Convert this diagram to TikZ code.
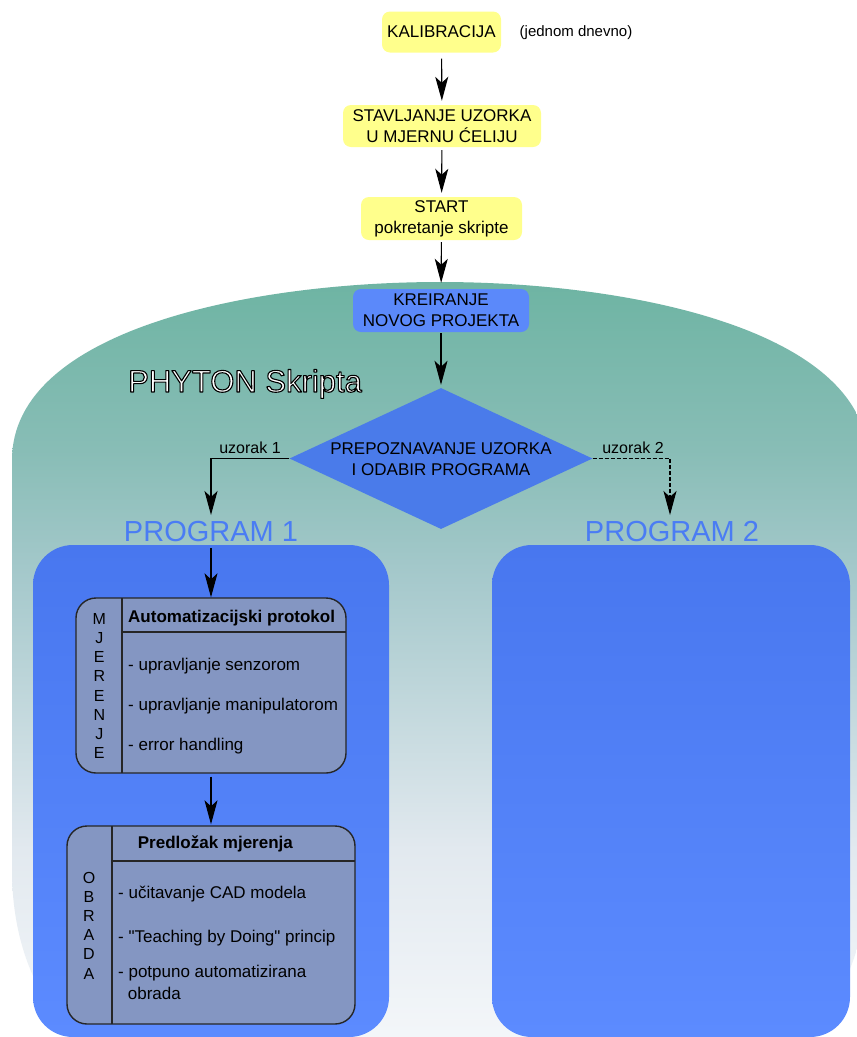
\documentclass[tikz,border=0pt]{standalone}
\usepackage{fontspec}
\setmainfont[Ligatures=TeXOff]{Liberation Sans}
\usetikzlibrary{arrows.meta,shapes.geometric}
\definecolor{yel}{HTML}{FFFF8C}
\definecolor{kreblue}{HTML}{5B89FA}
\definecolor{diablue}{HTML}{4A7BEA}
\definecolor{progtop}{HTML}{4877EF}
\definecolor{progbot}{HTML}{5C8BFF}
\definecolor{progtext}{HTML}{4A7CF4}
\definecolor{innerfill}{HTML}{8496C2}
\definecolor{d1}{HTML}{6EB4A3}
\definecolor{d2}{HTML}{88BDB6}
\definecolor{d3}{HTML}{A6C9CC}
\definecolor{d4}{HTML}{E2E9EF}
\definecolor{d5}{HTML}{F8FAFC}
\pgfdeclareverticalshading{domeshade}{100bp}{color(0bp)=(d5); color(25bp)=(d5); color(39.9bp)=(d4); color(56.6bp)=(d3); color(64.6bp)=(d2); color(75bp)=(d1); color(100bp)=(d1)}
\newcommand\outlinedtext[1]{{\color{white}\special{pdf:literal direct 2 Tr 0 0 0 RG 1.1 w 1 j}#1\special{pdf:literal direct 0 Tr}}}
\begin{document}
\begin{tikzpicture}[x=1pt,y=-1pt,
  font=\fontsize{17}{21}\selectfont,
  ybox/.style={fill=yel, rounded corners=8pt, inner sep=0pt, align=center},
  arr/.style={-{Stealth[length=24pt,width=13pt,inset=6pt]}, line width=1.1pt},
  darr/.style={arr, dash pattern=on 4pt off 2pt},
  inbox/.style={draw=black!85, line width=1.4pt, fill=innerfill, rounded corners=20pt, inner sep=0pt},
  divline/.style={draw=black!85, line width=1.4pt},
  progbox/.style={rounded corners=40pt, inner sep=0pt, top color=progtop, bottom color=progbot, draw=none},
  item/.style={anchor=base west, inner sep=0pt},
  vlet/.style={align=center, inner sep=0pt, font=\fontsize{16}{19.2}\selectfont},
  lbl/.style={font=\fontsize{16}{19}\selectfont, inner sep=0pt},
  ptitle/.style={text=progtext, font=\fontsize{29}{34}\selectfont, inner sep=0pt}]
\useasboundingbox (0,0) rectangle (857,1037);
\fill[white] (0,0) rectangle (857,1037);
% dome
\shade[shading=domeshade] (12,460) .. controls (12,330) and (250,282) .. (440,282) .. controls (630,282) and (868,330) .. (868,460) -- (868,870) .. controls (868,990) and (800,1080) .. (680,1090) -- (200,1090) .. controls (80,1080) and (12,990) .. (12,870) -- cycle;
% program boxes
\node[progbox, minimum width=356, minimum height=492] (pb1) at (211,791) {};
\node[progbox, minimum width=358, minimum height=492] (pb2) at (671,791) {};
% top flow
\node[ybox, minimum width=119, minimum height=41] (kal) at (441.5,32) {KALIBRACIJA};
\node[font=\fontsize{15}{18}\selectfont, inner sep=0pt] (jd) at (576,33) {(jednom dnevno)};
\node[ybox, minimum width=198, minimum height=42] (stav) at (442,126) {STAVLJANJE UZORKA\\U MJERNU ĆELIJU};
\node[ybox, minimum width=161, minimum height=43] (start) at (441.5,218.5) {START\\pokretanje skripte};
\node[ybox, fill=kreblue, minimum width=176, minimum height=43] (kre) at (441,310.5) {KREIRANJE\\NOVOG PROJEKTA};
\node[diamond, fill=diablue, minimum width=303, minimum height=141, inner sep=0pt] (dia) at (441,458.5) {};
\node[align=center, inner sep=0pt] (diat) at (441,459) {PREPOZNAVANJE UZORKA\\I ODABIR PROGRAMA};
\node[anchor=base west, inner sep=0pt, font=\fontsize{31}{36}\selectfont] (py) at (128,392) {\outlinedtext{PHYTON Skripta}};
\draw[arr, shorten <=6pt, shorten >=4pt] (kal) -- (stav);
\draw[arr, shorten <=3pt, shorten >=4pt] (stav) -- (start);
\draw[arr, shorten <=2pt, shorten >=6pt] (start) -- (kre);
\draw[arr, shorten <=1pt, shorten >=3pt] (kre) -- (dia);
% branches
\coordinate (t1) at (211,515);
\coordinate (t2) at (670,515);
\draw[arr] (dia.west) -| (t1);
\draw[darr] (dia.east) -| (t2);
\node[lbl] (u1) at (250,448) {uzorak 1};
\node[lbl] (u2) at (633,448) {uzorak 2};
\node[ptitle] (p1) at (211,532) {PROGRAM 1};
\node[ptitle] (p2) at (672,532) {PROGRAM 2};
% MJERENJE box
\node[inbox, minimum width=270, minimum height=175] (mj) at (211,685.5) {};
\draw[divline] (122,598) -- (122,773);
\draw[divline] (122,632) -- (346,632);
\node[vlet] (mjl) at (99.3,686) {M\\J\\E\\R\\E\\N\\J\\E};
\node[item, font=\fontsize{17}{21}\selectfont\bfseries] (mjh) at (128,622) {Automatizacijski protokol};
\node[item] (mj1) at (128,670) {- upravljanje senzorom};
\node[item] (mj2) at (128,710) {- upravljanje manipulatorom};
\node[item] (mj3) at (128,750) {- error handling};
% OBRADA box
\node[inbox, minimum width=288, minimum height=198] (ob) at (211,925) {};
\draw[divline] (112,826) -- (112,1024);
\draw[divline] (112,861) -- (355,861);
\node[vlet] (obl) at (89,925.5) {O\\B\\R\\A\\D\\A};
\node[item, font=\fontsize{17}{21}\selectfont\bfseries] (obh) at (137.7,848) {Predložak mjerenja};
\node[item] (ob1) at (118,898) {- učitavanje CAD modela};
\node[item] (ob2) at (118,942) {- "Teaching by Doing" princip};
\node[item] (ob3) at (118,977.7) {- potpuno automatizirana};
\node[item] (ob4) at (127.7,999) {obrada};
\draw[arr, shorten <=3pt] (pb1.north) -- (mj.north);
\draw[arr, shorten <=3pt, shorten >=1pt] (mj.south) -- (ob.north);
\end{tikzpicture}
\end{document}
